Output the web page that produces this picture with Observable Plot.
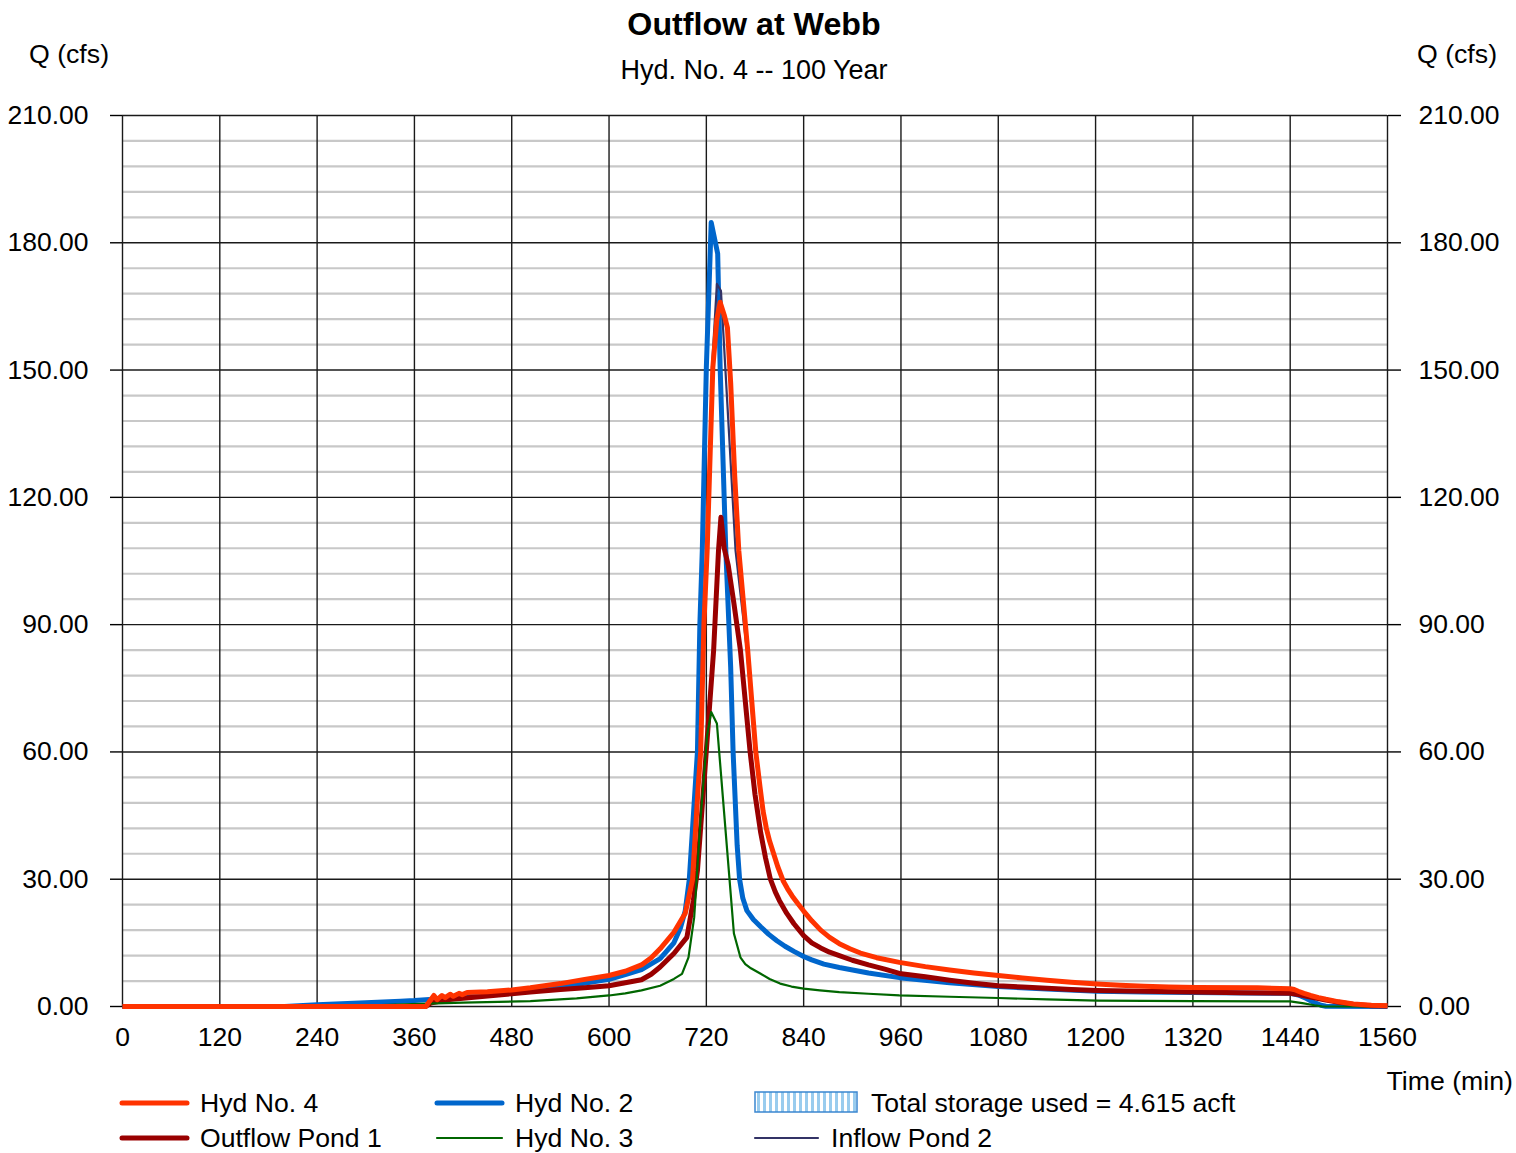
<!DOCTYPE html>
<html><head><meta charset="utf-8">
<script src="https://cdn.jsdelivr.net/npm/d3@7"></script>
<script src="https://cdn.jsdelivr.net/npm/@observablehq/plot@0.6"></script>
<style>
body{margin:0;background:#fff;}
#wrap{position:relative;width:1516px;height:1153px;overflow:hidden;background:#fff}
#wrap svg{position:absolute;left:0;top:0}
</style></head><body><div id="wrap"></div>
<script>
// ---- tick labels ----
const xTicks = [0,120,240,360,480,600,720,840,960,1080,1200,1320,1440,1560];
const yTicks = [0,30,60,90,120,150,180,210];

// ---- series: [time (min), Q (cfs)] ----
const hyd4 = [[0,0],[374,0],[384,2.6],[388,1.6],[394,2.6],[398,2.1],[404,2.9],[408,2.4],[415,3.1],[419,2.8],[425,3.3],[450,3.5],[480,3.9],[503,4.4],[540,5.4],[570,6.4],[600,7.3],[620,8.3],[640,9.8],[652,11.5],[663,13.6],[680,17.5],[694,22],[703,30],[710,52],[713,60],[717,90],[721,107.5],[728,150.6],[733,162],[737,166],[742,163],[746,160],[750,147],[755,125],[760,107.5],[771,84],[781,60],[786,52],[790,46],[794,42],[798,39],[803,36],[808,33],[815,29.5],[820,27.8],[826,26],[833,24.2],[840,22.5],[850,20.2],[861,18],[872,16.3],[884,14.8],[897,13.6],[910,12.6],[930,11.5],[958,10.4],[990,9.4],[1020,8.6],[1050,7.9],[1080,7.3],[1110,6.7],[1140,6.2],[1170,5.7],[1202,5.3],[1230,5.0],[1260,4.8],[1290,4.6],[1325,4.5],[1400,4.4],[1440,4.2],[1445,4.0],[1450,3.6],[1457,3.1],[1465,2.6],[1475,2.1],[1484,1.7],[1500,1.1],[1518,0.6],[1540,0.3],[1560,0.2]];

const pond1Out = [[0,0],[374,0],[380,0.8],[400,1.6],[440,2.3],[480,3.0],[503,3.4],[540,4.0],[570,4.4],[600,4.9],[620,5.6],[640,6.3],[652,7.6],[663,9.3],[680,12.5],[696,16.3],[704,25],[709,32],[717,52.5],[729,84],[735,107.5],[738,115.3],[742,108],[747,104],[754,95],[762,84],[774,60],[780,50],[787,41],[793,35],[799,30],[805,27],[810,25],[819,22],[828,19.5],[840,16.7],[850,15],[861,13.8],[872,12.8],[884,12],[900,10.9],[920,9.8],[940,8.8],[958,7.8],[990,7],[1020,6.2],[1050,5.5],[1080,4.9],[1110,4.6],[1140,4.3],[1170,4.0],[1202,3.8],[1260,3.6],[1320,3.4],[1380,3.25],[1440,3.1],[1450,2.8],[1465,2.2],[1484,1.5],[1500,1.0],[1518,0.5],[1540,0.2],[1560,0.1]];

const hyd2 = [[0,0],[200,0],[240,0.4],[300,0.9],[343,1.25],[360,1.4],[420,2.2],[480,3.3],[540,4.6],[600,6.4],[620,7.5],[640,8.7],[663,11.3],[680,15],[688,18.5],[694,22.6],[699,30],[709,60],[712,90],[715,107.5],[720,150.7],[726,184.8],[734,177.4],[737,150.7],[744,107.5],[750,80],[753,60],[758,38],[761,30],[765,25.5],[770,22.6],[778,20.5],[787,18.8],[797,17],[807,15.5],[817,14.2],[828,13],[840,11.8],[850,11],[865,10],[884,9.2],[920,7.9],[958,6.8],[1020,5.6],[1080,4.7],[1140,4.1],[1202,3.6],[1260,3.4],[1320,3.3],[1440,3.1],[1450,2.7],[1460,1.9],[1470,0.9],[1478,0.3],[1484,0.05],[1560,0]];

const hyd3 = [[0,0],[240,0],[300,0.2],[366,0.6],[420,0.9],[503,1.25],[560,1.9],[600,2.6],[620,3.1],[640,3.8],[663,4.9],[680,6.5],[690,7.7],[698,11.6],[705,21],[713,44.6],[721,64],[726,69.4],[733,66.7],[754,17.2],[762,11.6],[768,10],[775,9],[787,7.7],[798,6.5],[811,5.4],[825,4.7],[840,4.2],[860,3.8],[884,3.4],[920,3.0],[958,2.6],[1020,2.3],[1080,2.0],[1140,1.7],[1202,1.4],[1320,1.25],[1440,1.2],[1455,0.8],[1470,0.3],[1479,0.05],[1560,0]];

const pond2In = [[0,0],[374,0],[384,2.6],[388,1.6],[394,2.6],[398,2.1],[404,2.9],[408,2.4],[415,3.1],[419,2.8],[425,3.3],[450,3.5],[480,3.9],[503,4.4],[540,5.4],[570,6.4],[600,7.3],[620,8.3],[640,9.8],[652,11.5],[663,13.6],[680,17.5],[694,22],[703,30],[710,52],[713,60],[717,90],[721,107.5],[727,150.7],[733,170.3],[738,168.7],[748,135],[756,107.5],[770,84],[780,60],[786,52],[790,46],[794,42],[798,39],[803,36],[808,33],[815,29.5],[820,27.8],[826,26],[833,24.2],[840,22.5],[850,20.2],[861,18],[872,16.3],[884,14.8],[897,13.6],[910,12.6],[930,11.5],[958,10.4],[990,9.4],[1020,8.6],[1050,7.9],[1080,7.3],[1110,6.7],[1140,6.2],[1170,5.7],[1202,5.3],[1230,5.0],[1260,4.8],[1290,4.6],[1325,4.5],[1400,4.4],[1440,4.2],[1445,4.0],[1450,3.6],[1457,3.1],[1465,2.6],[1475,2.1],[1484,1.7],[1500,1.1],[1518,0.6],[1540,0.3],[1560,0.2]];

const storageText = "Total storage used = 4.615 acft";

const C = {hyd4:"#FF3300", pond1:"#990000", hyd2:"#0066CC", hyd3:"#006600", pond2:"#333366"};
const FONT = "'Liberation Sans', Arial, Helvetica, sans-serif";

const yMinor = d3.range(0, 210, 6).filter(v => v % 30 !== 0);
const fmtY = d => d.toFixed(2);
const lineOpts = (color, w) => ({x: d => d[0], y: d => d[1], stroke: color, strokeWidth: w, strokeLinejoin: "round", strokeLinecap: "butt"});

const chart = Plot.plot({
  width: 1516, height: 1153,
  marginLeft: 122, marginRight: 129, marginTop: 115, marginBottom: 147,
  style: {fontFamily: FONT, fontSize: "26.5px", color: "#000", background: "#fff", overflow: "visible"},
  x: {domain: [0, 1560]},
  y: {domain: [0, 210]},
  marks: [
    Plot.ruleY(yMinor, {stroke: "#c8c8c8", strokeWidth: 2.2}),
    Plot.ruleX(xTicks, {stroke: "#1a1a1a", strokeWidth: 1.4}),
    Plot.ruleY(yTicks, {stroke: "#1a1a1a", strokeWidth: 1.4}),
    Plot.axisY({anchor: "left", ticks: yTicks, tickSize: 12, tickPadding: 22, tickFormat: fmtY, label: null, fontSize: 26.5, strokeWidth: 1.4}),
    Plot.axisY({anchor: "right", ticks: yTicks, tickSize: 13, tickPadding: 18, tickFormat: fmtY, label: null, fontSize: 26.5, strokeWidth: 1.4}),
    Plot.axisX({ticks: xTicks, tickSize: 0, tickPadding: 21, tickFormat: d => String(d), label: null, fontSize: 26.5}),
    Plot.line(hyd2, lineOpts(C.hyd2, 5)),
    Plot.line(pond1Out, lineOpts(C.pond1, 5)),
    Plot.line(hyd3, lineOpts(C.hyd3, 2.2)),
    Plot.line(pond2In, lineOpts(C.pond2, 2.2)),
    Plot.line(hyd4, lineOpts(C.hyd4, 5))
  ]
});
const wrap = document.getElementById("wrap");
wrap.appendChild(chart);

// ---- titles, axis captions and legend (overlay) ----
const ov = d3.select(wrap).append("svg").attr("width", 1516).attr("height", 1153)
  .style("font-family", FONT).style("pointer-events", "none");
const txt = (x, y, s, size, anchor = "start", weight = "normal") =>
  ov.append("text").attr("x", x).attr("y", y).attr("font-size", size).attr("text-anchor", anchor)
    .attr("font-weight", weight).attr("fill", "#000").text(s);

txt(754, 35, "Outflow at Webb", 32.2, "middle", "bold");
txt(754, 79, "Hyd. No. 4 -- 100 Year", 27, "middle");
txt(69, 63, "Q (cfs)", 26.7, "middle");
txt(1457, 63, "Q (cfs)", 26.7, "middle");
txt(1513, 1090, "Time (min)", 26.7, "end");

const defs = ov.append("defs");
const pat = defs.append("pattern").attr("id", "hatch").attr("patternUnits", "userSpaceOnUse")
  .attr("width", 6).attr("height", 10);
pat.append("rect").attr("width", 6).attr("height", 10).attr("fill", "#fff");
pat.append("rect").attr("x", 1).attr("width", 3).attr("height", 10).attr("fill", "#99ccee");

const legend = [
  {label: "Hyd No. 4", color: C.hyd4, w: 5, x: 122, row: 0},
  {label: "Outflow Pond 1", color: C.pond1, w: 5, x: 122, row: 1},
  {label: "Hyd No. 2", color: C.hyd2, w: 5, x: 437, row: 0},
  {label: "Hyd No. 3", color: C.hyd3, w: 2.2, x: 437, row: 1},
  {label: "Inflow Pond 2", color: C.pond2, w: 2.2, x: 755, row: 1}
];
const rowY = [1103, 1138];
for (const L of legend) {
  const y = rowY[L.row];
  const len = L.x === 755 ? 63 : 65;
  ov.append("line").attr("x1", L.x).attr("x2", L.x + len).attr("y1", y).attr("y2", y)
    .attr("stroke", L.color).attr("stroke-width", L.w).attr("stroke-linecap", "round");
  txt(L.x + len + 13, y + 9, L.label, 26.6);
}
ov.append("rect").attr("x", 755).attr("y", 1092).attr("width", 102).attr("height", 20)
  .attr("fill", "url(#hatch)").attr("stroke", "#3a86d0").attr("stroke-width", 1.5);
txt(871, 1112, storageText, 26.6);
</script></body></html>
